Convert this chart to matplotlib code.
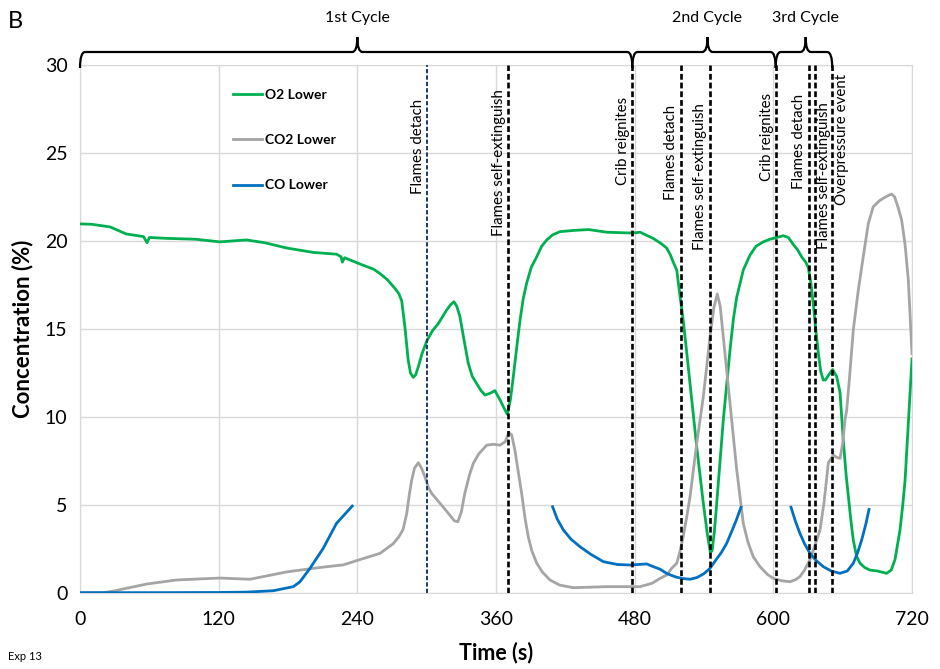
import numpy as np
import matplotlib
matplotlib.use('Agg')
import matplotlib.pyplot as plt
from matplotlib.path import Path
from matplotlib.patches import PathPatch
from matplotlib.transforms import blended_transform_factory

plt.rcParams['font.family'] = ['Lato', 'DejaVu Sans']

# ---------------- data ----------------
o2_t = [0, 10, 26, 40, 55, 58, 60, 75, 100, 121, 144, 160, 179, 202, 222, 226, 227, 229,
        242, 254, 259.6, 266, 272.6, 276, 278.4, 281.2, 284, 286, 288.4, 290.5, 292.8,
        296, 300, 305, 310, 317.3, 321, 323.6, 326, 328.8, 332, 336, 339.5, 343.3, 347,
        350.5, 355, 359, 363.5, 367, 369.8, 372.5, 375, 378, 380.8, 383.5, 386.5, 390.5,
        395.2, 399.5, 403.9, 409, 415.4, 427, 440, 455.8, 478, 484.6, 496, 503, 507.7,
        511, 513.4, 516.4, 519, 522, 525, 527.9, 533.7, 539.4, 543, 545.5, 547, 549, 551,
        556.7, 562.5, 565.5, 568.3, 574, 579.8, 585, 591.3, 597, 602.9, 608.6, 613,
        617.3, 621, 624.5, 628, 630.2, 632.5, 634.6, 637, 639, 641, 643.2, 645, 648,
        651.3, 654.8, 657.7, 660.5, 663, 665, 667, 669.2, 672, 675, 679, 683.6, 690, 698,
        702, 705.3, 709.6, 712, 714, 717, 720]
o2_v = [20.97, 20.95, 20.8, 20.4, 20.25, 19.9, 20.2, 20.15, 20.1, 19.95, 20.06, 19.9,
        19.6, 19.35, 19.25, 19.1, 18.8, 19.05, 18.7, 18.4, 18.15, 17.8, 17.3, 17.0, 16.6,
        15.1, 13.24, 12.5, 12.25, 12.4, 12.86, 13.6, 14.3, 14.9, 15.3, 16.08, 16.4,
        16.55, 16.3, 15.7, 14.5, 13.05, 12.3, 11.9, 11.5, 11.25, 11.35, 11.5, 10.97,
        10.5, 10.15, 11.0, 12.3, 14.0, 15.5, 16.7, 17.6, 18.5, 19.1, 19.7, 20.06, 20.35,
        20.53, 20.6, 20.65, 20.5, 20.45, 20.5, 20.15, 19.85, 19.6, 19.2, 18.8, 18.35,
        17.0, 15.5, 13.7, 11.9, 8.3, 5.1, 3.3, 2.3, 2.4, 3.5, 5.1, 9.83, 13.8, 15.6,
        16.8, 18.35, 19.2, 19.7, 19.95, 20.1, 20.2, 20.3, 20.2, 19.8, 19.5, 19.1, 18.8,
        18.5, 17.6, 16.4, 14.8, 13.6, 12.6, 12.1, 12.1, 12.4, 12.7, 12.3, 11.4, 8.7,
        6.7, 5.47, 4.2, 3.0, 2.1, 1.69, 1.45, 1.3, 1.25, 1.12, 1.3, 1.9, 3.58, 5.0, 6.4,
        9.8, 13.3]

co2_t = [0, 20, 30, 40.4, 57.7, 83.7, 121, 147, 160, 179, 207.7, 227.9, 242.3, 259.6,
         271, 276, 279.5, 282.7, 285, 287, 289.5, 292.8, 295.5, 298.5, 301.5, 304.3,
         311.5, 320, 324, 327, 330, 333, 337, 340.4, 345, 352, 358, 363.5, 368, 371,
         373.5, 376.4, 379, 382.2, 385, 387.9, 391, 395.2, 400, 406.7, 415, 427, 455.8,
         484.6, 495, 502, 507.7, 512, 516.4, 519, 522, 525, 527.9, 533.7, 539.4, 545.2,
         548.5, 551.5, 554, 556.7, 562.5, 568.3, 574, 578, 582.6, 588.4, 595, 600, 607,
         614.4, 619, 623, 627, 631.7, 636, 640.4, 644, 647.6, 652, 655, 657.7, 660, 662,
         663.5, 666, 669.2, 673.5, 677.8, 682.2, 686.5, 692, 697, 702.4, 705, 708, 711,
         714, 716.8, 720]
co2_v = [0.0, 0.02, 0.12, 0.27, 0.51, 0.74, 0.85, 0.78, 0.95, 1.2, 1.45, 1.6, 1.9, 2.25,
         2.8, 3.2, 3.6, 4.5, 5.6, 6.4, 7.1, 7.4, 7.1, 6.6, 6.0, 5.66, 5.1, 4.43, 4.1,
         4.05, 4.6, 5.66, 6.7, 7.37, 7.9, 8.4, 8.45, 8.4, 8.6, 9.1, 9.0, 8.1, 7.0, 5.66,
         4.3, 3.2, 2.4, 1.7, 1.2, 0.74, 0.45, 0.3, 0.36, 0.36, 0.55, 0.83, 1.02, 1.4,
         1.69, 2.3, 3.2, 4.3, 5.47, 8.5, 11.15, 14.56, 16.2, 16.99, 16.3, 14.56, 10.78,
         7.0, 3.96, 2.9, 2.06, 1.5, 1.05, 0.83, 0.7, 0.64, 0.75, 0.93, 1.3, 1.9, 2.7,
         3.58, 5.2, 7.4, 7.84, 7.7, 7.65, 8.5, 9.83, 10.4, 12.3, 14.94, 17.2, 19.1,
         21.0, 21.95, 22.3, 22.5, 22.67, 22.5, 21.9, 21.2, 19.8, 17.8, 13.6]

co_t1 = [0, 60, 120, 144, 167.3, 184.6, 190.4, 199, 210.5, 222, 235.6]
co_v1 = [0.02, 0.02, 0.03, 0.05, 0.13, 0.36, 0.64, 1.4, 2.54, 3.96, 4.94]
co_t2 = [409, 413, 418.3, 425, 432.7, 442, 452.9, 465, 476, 490.4, 496, 502, 508, 516,
         522, 527.9, 534, 540, 545.2, 550, 555, 559.6, 564, 568, 572]
co_v2 = [4.9, 4.2, 3.58, 3.05, 2.63, 2.2, 1.78, 1.62, 1.59, 1.65, 1.5, 1.35, 1.1, 0.9,
         0.82, 0.78, 0.88, 1.1, 1.4, 1.85, 2.3, 2.82, 3.5, 4.15, 4.87]
co_t3 = [615.3, 619, 623, 627, 631.7, 637, 643.2, 650, 657.7, 664, 669.2, 673, 676.4,
         680, 682.8]
co_v3 = [4.87, 4.1, 3.39, 2.8, 2.25, 1.85, 1.5, 1.25, 1.12, 1.25, 1.69, 2.3, 3.0,
         3.9, 4.75]

event_times = [300, 370.5, 478, 520.5, 545.5, 602, 631, 636, 651]
event_labels = ['Flames detach', 'Flames self-extinguish', 'Crib reignites',
                'Flames detach', 'Flames self-extinguish', 'Crib reignites',
                'Flames detach', 'Flames self-extinguish', 'Overpressure event']

cycle_labels = ['1st Cycle', '2nd Cycle', '3rd Cycle']
cycle_bounds = [(0, 478), (478, 602), (602, 651)]
cycle_tips = [240, 543, 628]

x_ticks = [0, 120, 240, 360, 480, 600, 720]
y_ticks = [0, 5, 10, 15, 20, 25, 30]

# ---------------- layout / style ----------------
event_colors = ['#203864'] + ['black'] * 8
event_lw = [1.4] + [1.9] * 8
label_dx = [-7.5, -7.5, -8.5, -9, -9, -7.5, -8.5, 7.5, 8.5]
label_top = [28.07, 28.64, 28.18, 27.73, 27.84, 28.41, 28.35, 27.9, 29.49]

fig = plt.figure(figsize=(9.4, 6.69), dpi=100)
ax = fig.add_axes([80 / 940, 76 / 669, 832 / 940, 528 / 669])

ax.set_xlim(0, 720)
ax.set_ylim(0, 30)
ax.set_xticks(x_ticks)
ax.set_yticks(y_ticks)
ax.tick_params(length=0, labelsize=14)
ax.tick_params(axis='x', pad=13)
ax.tick_params(axis='y', pad=9)
ax.grid(True, color='#d9d9d9', lw=1.0)
ax.set_axisbelow(True)
for s in ax.spines.values():
    s.set_color('#d9d9d9')

ax.plot(o2_t, o2_v, color='#00b050', lw=2.0, label='O2 Lower', zorder=3)
ax.plot(co2_t, co2_v, color='#a5a5a5', lw=2.0, label='CO2 Lower', zorder=3)
ax.plot(co_t1, co_v1, color='#0070c0', lw=2.0, label='CO Lower', zorder=3)
ax.plot(co_t2, co_v2, color='#0070c0', lw=2.0, zorder=3)
ax.plot(co_t3, co_v3, color='#0070c0', lw=2.0, zorder=3)

for t, lab, c, lw, dx, top in zip(event_times, event_labels, event_colors, event_lw,
                                  label_dx, label_top):
    ax.axvline(t, color=c, lw=lw, linestyle=(0, (2.2, 1.1)), zorder=4)
    ax.text(t + dx, top, lab, rotation=90, ha='center', va='top', fontsize=10.8,
            zorder=5)

leg = ax.legend(loc='upper left', bbox_to_anchor=(0.184, 0.955), frameon=False,
                borderpad=0, borderaxespad=0, handlelength=2.1, handletextpad=0.2,
                labelspacing=2.4, prop={'weight': 'bold', 'size': 10})

ax.set_xlabel('Time (s)', fontsize=15.5, fontweight='bold')
ax.set_ylabel('Concentration (%)', fontsize=16, fontweight='bold')
ax.xaxis.set_label_coords(0.5, (593 - 642) / 528)
ax.yaxis.set_label_coords((33 - 80) / 832, 0.5)

# curly braces above the axes
trans = blended_transform_factory(ax.transData, ax.transAxes)
y_end = (593 - 68) / 528
y_flat = (593 - 52) / 528
y_tip = (593 - 37) / 528
r = 4.5
for (x0, x1), tip, lab in zip(cycle_bounds, cycle_tips, cycle_labels):
    verts = [(x0, y_end), (x0, y_flat), (x0 + r, y_flat),
             (tip - r, y_flat), (tip, y_flat), (tip, y_tip),
             (tip, y_flat), (tip + r, y_flat),
             (x1 - r, y_flat), (x1, y_flat), (x1, y_end)]
    codes = [Path.MOVETO, Path.CURVE3, Path.CURVE3,
             Path.LINETO, Path.CURVE3, Path.CURVE3,
             Path.CURVE3, Path.CURVE3,
             Path.LINETO, Path.CURVE3, Path.CURVE3]
    ax.add_patch(PathPatch(Path(verts, codes), transform=trans, fill=False,
                           lw=1.6, color='black', clip_on=False, zorder=6))
    ax.text(tip, (593 - 18) / 528, lab, transform=trans, ha='center', va='center',
            fontsize=11.5)

fig.text(15 / 940, 1 - 21 / 669, 'B', ha='center', va='center', fontsize=17)
fig.text(8 / 940, 1 - 657 / 669, 'Exp 13', ha='left', va='center', fontsize=8)

fig.savefig('out.png', dpi=100)
